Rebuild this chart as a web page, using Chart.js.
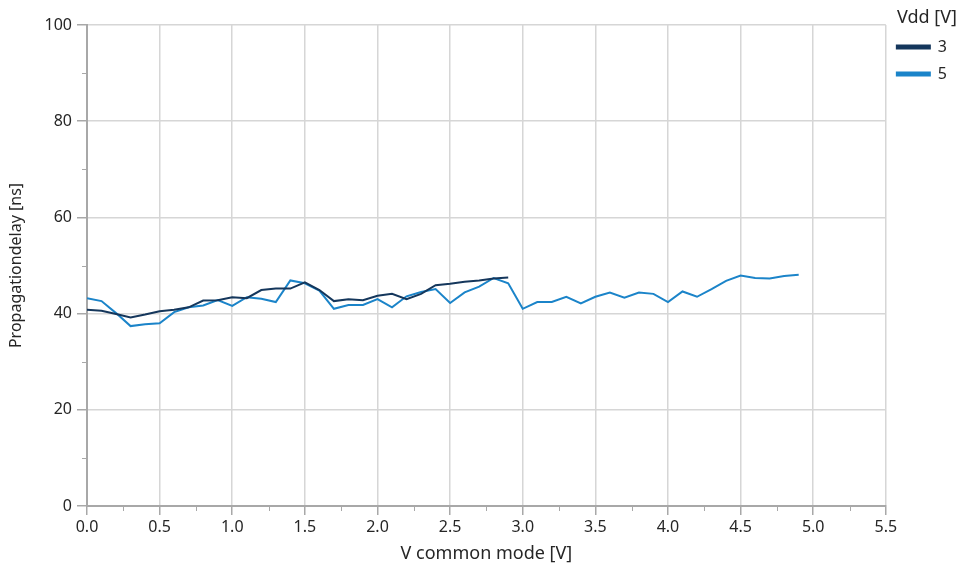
<!DOCTYPE html>
<html>
<head>
<meta charset="utf-8">
<script src="https://cdn.jsdelivr.net/npm/chart.js@4/dist/chart.umd.min.js"></script>
<style>
  html, body { margin: 0; padding: 0; background: #fff; }
  #wrap { width: 959px; height: 565px; }
</style>
</head>
<body>
<div id="wrap"><canvas id="myChart" width="959" height="565"></canvas></div>
<script>
// datos (V common mode, retardo en ns)
const vcm3 = [0.0, 0.1, 0.2, 0.3, 0.4, 0.5, 0.6, 0.7, 0.8, 0.9, 1.0, 1.1, 1.2, 1.3, 1.4,
  1.5, 1.6, 1.7, 1.8, 1.9, 2.0, 2.1, 2.2, 2.3, 2.4, 2.5, 2.6, 2.7, 2.8, 2.9];
const delay3 = [40.8, 40.6, 39.9, 39.2, 39.8, 40.5, 40.8, 41.3, 42.7, 42.8, 43.4, 43.2, 44.9, 45.2, 45.2,
  46.5, 44.9, 42.6, 43.0, 42.8, 43.7, 44.1, 43.0, 44.1, 45.9, 46.2, 46.6, 46.9, 47.3, 47.5];

const vcm5 = [0.0, 0.1, 0.2, 0.3, 0.4, 0.5, 0.6, 0.7, 0.8, 0.9, 1.0, 1.1, 1.2, 1.3, 1.4,
  1.5, 1.6, 1.7, 1.8, 1.9, 2.0, 2.1, 2.2, 2.3, 2.4, 2.5, 2.6, 2.7, 2.8, 2.9,
  3.0, 3.1, 3.2, 3.3, 3.4, 3.5, 3.6, 3.7, 3.8, 3.9, 4.0, 4.1, 4.2, 4.3, 4.4,
  4.5, 4.6, 4.7, 4.8, 4.9];
const delay5 = [43.2, 42.6, 40.1, 37.4, 37.8, 38.0, 40.3, 41.3, 41.7, 42.8, 41.6, 43.4, 43.1, 42.4, 46.9,
  46.3, 44.8, 41.0, 41.8, 41.8, 43.0, 41.3, 43.6, 44.5, 45.1, 42.2, 44.4, 45.6, 47.4, 46.3,
  41.0, 42.4, 42.4, 43.5, 42.1, 43.5, 44.4, 43.3, 44.4, 44.1, 42.4, 44.6, 43.5, 45.1, 46.8,
  47.9, 47.4, 47.3, 47.8, 48.1];

const seriesNames = ["3", "5"];
const seriesColors = ["#15375c", "#1b84c9"];

const textColor = "#262626";
const axisColor = "#a8a8a8";
const gridColor = "#d6d6d6";
const fontFam = "'Noto Sans', 'Open Sans', sans-serif";

const toPoints = (xs, ys) => xs.map((x, i) => ({ x: x, y: ys[i] }));

// marcas menores (0.25 en x, 10 en y)
const minorTicks = {
  id: "minorTicks",
  afterDraw(chart) {
    const ctx = chart.ctx;
    const xs = chart.scales.x;
    const ys = chart.scales.y;
    ctx.save();
    ctx.strokeStyle = axisColor;
    ctx.lineWidth = 1;
    ctx.beginPath();
    for (let v = 0.25; v < 5.5; v += 0.5) {
      const px = Math.round(xs.getPixelForValue(v)) + 0.5;
      ctx.moveTo(px, ys.bottom);
      ctx.lineTo(px, ys.bottom + 5);
    }
    for (let v = 10; v < 100; v += 20) {
      const py = Math.round(ys.getPixelForValue(v)) + 0.5;
      ctx.moveTo(xs.left - 5, py);
      ctx.lineTo(xs.left, py);
    }
    ctx.stroke();
    ctx.restore();
  }
};

// subir la leyenda para que el titulo quede arriba del grafico
const subirLeyenda = {
  id: "subirLeyenda",
  afterLayout(chart) {
    const lg = chart.legend;
    if (lg) {
      lg.top -= 16;
      lg.bottom -= 16;
    }
  }
};

const datasets = [
  {
    label: seriesNames[0],
    data: toPoints(vcm3, delay3),
    borderColor: seriesColors[0],
    backgroundColor: seriesColors[0],
    borderWidth: 2,
    pointRadius: 0,
    tension: 0
  },
  {
    label: seriesNames[1],
    data: toPoints(vcm5, delay5),
    borderColor: seriesColors[1],
    backgroundColor: seriesColors[1],
    borderWidth: 2,
    pointRadius: 0,
    tension: 0
  }
];

const config = {
  type: "line",
  data: { datasets },
  options: {
    responsive: false,
    animation: false,
    layout: { padding: { top: 25, right: 2, left: 0, bottom: 0 } },
    plugins: {
      tooltip: { enabled: false },
      legend: {
        position: "right",
        align: "start",
        title: {
          display: true,
          text: "Vdd [V]",
          position: "end",
          color: textColor,
          font: { family: fontFam, size: 18, lineHeight: 1 },
          padding: { top: 0, bottom: 1 }
        },
        labels: {
          color: textColor,
          font: { family: fontFam, size: 16 },
          boxWidth: 33,
          boxHeight: 3,
          padding: 11
        }
      }
    },
    scales: {
      x: {
        type: "linear",
        min: 0,
        max: 5.5,
        afterFit: (scale) => { scale.height = 59; },
        ticks: {
          stepSize: 0.5,
          color: textColor,
          font: { family: fontFam, size: 16 },
          padding: 3,
          maxRotation: 0,
          callback: (v) => Number(v).toFixed(1)
        },
        grid: { color: gridColor, lineWidth: 1.5, tickColor: axisColor, tickLength: 9 },
        border: { color: axisColor, width: 2 },
        title: {
          display: true,
          text: "V common mode [V]",
          color: textColor,
          font: { family: fontFam, size: 18 },
          padding: { top: 0, bottom: 0 }
        }
      },
      y: {
        min: 0,
        max: 100,
        afterFit: (scale) => { scale.width = 87; },
        ticks: {
          stepSize: 20,
          color: textColor,
          font: { family: fontFam, size: 16 },
          padding: 5
        },
        grid: { color: gridColor, lineWidth: 1.5, tickColor: axisColor, tickLength: 10 },
        border: { color: axisColor, width: 2 },
        title: {
          display: true,
          text: "Propagationdelay [ns]",
          color: textColor,
          font: { family: fontFam, size: 16 },
          padding: { top: 7, bottom: 0 }
        }
      }
    }
  },
  plugins: [minorTicks, subirLeyenda]
};

const chart = document.querySelector("#myChart");
const myChart = new Chart(chart, config);
</script>
</body>
</html>
